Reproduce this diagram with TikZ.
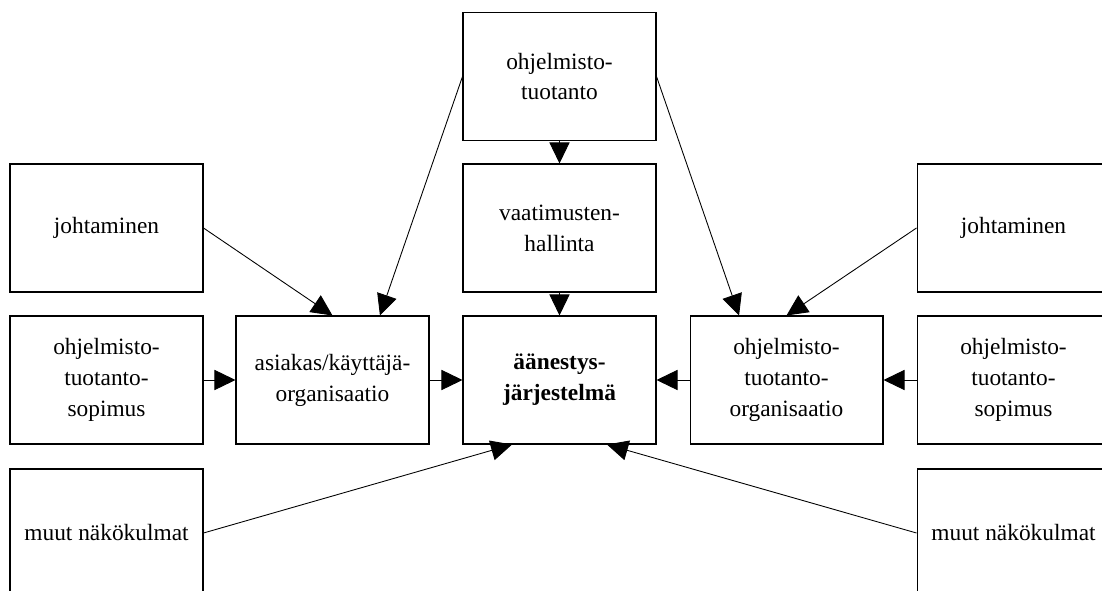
\documentclass[tikz,border=0pt]{standalone}
\usepackage{fontspec}
\setmainfont{Liberation Serif}
\usetikzlibrary{arrows.meta}

\begin{document}
\begin{tikzpicture}
        [x=0.02cm, y=-0.02cm,
        box/.style={draw, black, line width=0.6pt, minimum width=3.86cm, minimum height=2.56cm,
            align=center, inner sep=0pt, font=\fontsize{13.3}{17.6}\selectfont},
        edge/.style={black, line width=0.5pt, -{Triangle[length=12pt, width=11.5pt]}}]

        % picture frame, boxes on the right and bottom run past it
        \useasboundingbox (0,0) rectangle (1102,591);
        \clip (0,0) rectangle (1102,591);

        \node[box] (sw) at (559.5,76.5) {ohjelmisto-\\tuotanto};
        \node[box] (req) at (559.5,228) {vaatimusten-\\hallinta};
        \node[box] (vote) at (559.5,380) {\textbf{äänestys-}\\\textbf{järjestelmä}};

        \node[box] (lmgmt) at (106.5,228) {johtaminen};
        \node[box] (lcontr) at (106.5,380) {ohjelmisto-\\tuotanto-\\sopimus};
        \node[box] (lother) at (106.5,533) {muut näkökulmat};
        \node[box] (cust) at (332.5,380) {asiakas/käyttäjä-\\organisaatio};

        \node[box] (rmgmt) at (1013.5,228) {johtaminen};
        \node[box] (rcontr) at (1013.5,380) {ohjelmisto-\\tuotanto-\\sopimus};
        \node[box] (rother) at (1013.5,533) {muut näkökulmat};
        \node[box] (dev) at (786.5,380) {ohjelmisto-\\tuotanto-\\organisaatio};

        \draw[edge] (sw) -- (req);
        \draw[edge] (req) -- (vote);
        \draw[edge] (cust) -- (vote);
        \draw[edge] (dev) -- (vote);
        \draw[edge] (lcontr) -- (cust);
        \draw[edge] (rcontr) -- (dev);

        \draw[edge] (lmgmt.east) -- (cust.north);
        \draw[edge] (rmgmt.west) -- (dev.north);
        \draw[edge] (sw.west) -- ([xshift=27pt]cust.north);
        \draw[edge] (sw.east) -- ([xshift=-27pt]dev.north);

        \draw[edge] (lother.east) -- ([xshift=-27pt]vote.south);
        \draw[edge] (rother.west) -- ([xshift=27pt]vote.south);
    \end{tikzpicture}
\end{document}
